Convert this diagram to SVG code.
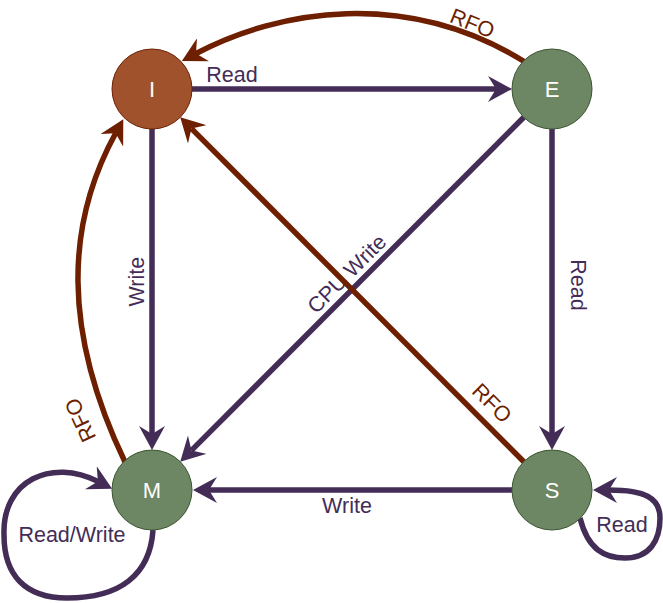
<svg xmlns="http://www.w3.org/2000/svg" width="663" height="603" viewBox="0 0 663 603">
  <style>
    .e { fill: none; stroke-width: 5.5; }
    .p { stroke: #432d57; }
    .b { stroke: #6d1f00; }
    .pa { marker-end: url(#ap); }
    .ba { marker-end: url(#ab); }
    .lbl { font-family: "Liberation Sans", Arial, sans-serif; font-size: 21.5px; text-anchor: middle; }
    .lp { fill: #432d57; }
    .lb { fill: #6d1f00; }
    .nl { font-family: "Liberation Sans", Arial, sans-serif; font-size: 22px; fill: #ffffff; text-anchor: middle; }
    .red { fill: #a0522d; stroke: #6d1f00; stroke-width: 1; }
    .grn { fill: #6d8764; stroke: #3a5431; stroke-width: 1; }
  </style>
  <defs>
    <marker id="ap" markerUnits="userSpaceOnUse" viewBox="0 0 24 26" markerWidth="24" markerHeight="26" refX="8" refY="13" orient="auto">
      <path d="M0,0 L24,13 L0,26 L8,13 Z" fill="#432d57"/>
    </marker>
    <marker id="ab" markerUnits="userSpaceOnUse" viewBox="0 0 24 26" markerWidth="24" markerHeight="26" refX="8" refY="13" orient="auto">
      <path d="M0,0 L24,13 L0,26 L8,13 Z" fill="#6d1f00"/>
    </marker>
  </defs>
  <g id="connectors">
    <g id="edge-I-E">
      <path class="e p pa" d="M192,89 L496,89"/>
      <text class="lbl lp" x="232" y="82">Read</text>
    </g>
    <g id="edge-E-I">
      <path class="e b ba" d="M525,62 C406,-12 278,10 196,53.5"/>
      <text class="lbl lb" transform="translate(469.6,30.1) rotate(22)">RFO</text>
    </g>
    <g id="edge-I-M">
      <path class="e p pa" d="M152,129 L152,434"/>
      <text class="lbl lp" transform="translate(144,281.7) rotate(-90)">Write</text>
    </g>
    <g id="edge-M-I">
      <path class="e b ba" d="M125,462 C61.9,330 65.9,224 115.6,133.3"/>
      <text class="lbl lb" transform="translate(87,417) rotate(-115)">RFO</text>
    </g>
    <g id="edge-E-M">
      <path class="e p pa" d="M523.8,117.3 L191.5,450.4"/>
      <text class="lbl lp" transform="translate(352,279) rotate(-45)">CPU Write</text>
    </g>
    <g id="edge-S-I">
      <path class="e b ba" d="M523.8,461.7 L191.5,128.6"/>
      <text class="lbl lb" transform="translate(486.7,408.3) rotate(45)">RFO</text>
    </g>
    <g id="edge-E-S">
      <path class="e p pa" d="M552,129 L552,434"/>
      <text class="lbl lp" transform="translate(570.5,285) rotate(90)">Read</text>
    </g>
    <g id="edge-S-M">
      <path class="e p pa" d="M512,490 L209,490"/>
      <text class="lbl lp" x="347" y="513">Write</text>
    </g>
    <g id="edge-M-M">
      <path class="e p pa" d="M153,530 C150,575 120,598 67,598 C25,598 4,575 4,535 C2,480 52,458 97.9,481.4"/>
      <text class="lbl lp" x="72" y="541.7">Read/Write</text>
    </g>
    <g id="edge-S-S">
      <path class="e p pa" d="M580,518 C588,550 605,558 625,558 C650,558 660,540 660,518 C660,498 645,490 609,490"/>
      <text class="lbl lp" x="622" y="531.7">Read</text>
    </g>
  </g>
  <g id="node-I">
    <circle class="red" cx="152" cy="89" r="40"/>
    <text class="nl" x="152" y="97">I</text>
  </g>
  <g id="node-E">
    <circle class="grn" cx="552" cy="89" r="40"/>
    <text class="nl" x="552" y="97">E</text>
  </g>
  <g id="node-M">
    <circle class="grn" cx="152" cy="490" r="40"/>
    <text class="nl" x="152" y="498">M</text>
  </g>
  <g id="node-S">
    <circle class="grn" cx="552" cy="490" r="40"/>
    <text class="nl" x="552" y="498">S</text>
  </g>
</svg>
